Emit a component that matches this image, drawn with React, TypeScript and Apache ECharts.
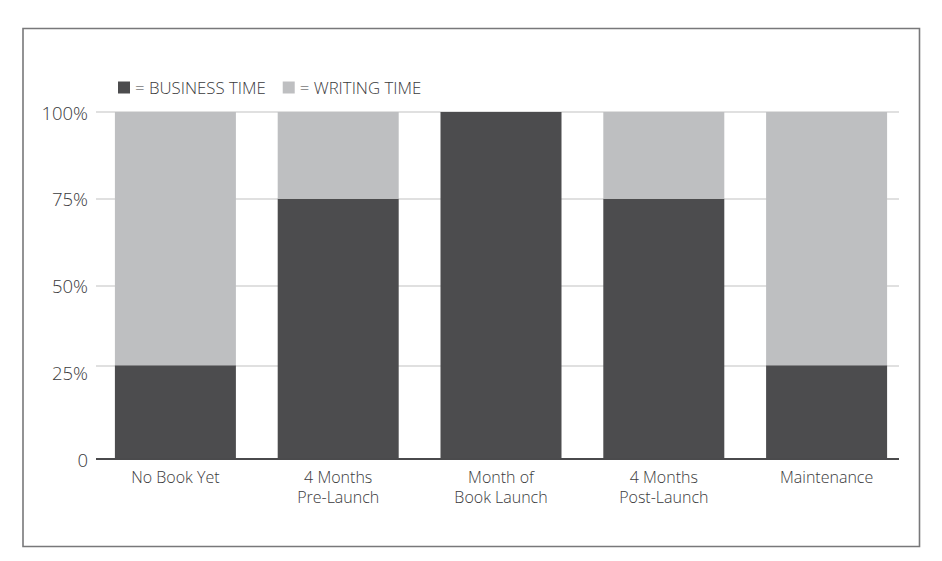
import React, { useEffect, useRef } from "react";
import * as echarts from "echarts";

const categories = [
  "No Book Yet",
  "4 Months\nPre-Launch",
  "Month of\nBook Launch",
  "4 Months\nPost-Launch",
  "Maintenance",
];
const businessTime = [27, 75, 100, 75, 27];
const writingTime = [73, 25, 0, 25, 73];
const yTicks = [0, 25, 50, 75, 100];
const gridLineValues = [27, 50, 75, 100];

const FONT = "Open Sans";
const TEXT = "#3a3a3c";
const DARK = "#4c4c4e";
const LIGHT = "#bebfc1";

export default function App() {
  const ref = useRef<HTMLDivElement>(null);
  useEffect(() => {
    if (!ref.current) return;
    const chart = echarts.init(ref.current, null, { renderer: "svg" });
    chart.setOption({
      animation: false,
      backgroundColor: "#ffffff",
      textStyle: { fontFamily: FONT, color: TEXT, fontWeight: 300 },
      legend: {
        left: 113,
        top: 74,
        itemWidth: 12,
        itemHeight: 12,
        itemGap: 17,
        icon: "rect",
        textStyle: { fontFamily: FONT, fontSize: 16.8, fontWeight: 300, color: TEXT },
        data: ["= BUSINESS TIME", "= WRITING TIME"],
      },
      grid: [
        { left: 94, right: 34, top: 112, bottom: 102, containLabel: false },
        { left: 96, right: 43, top: 112, bottom: 102, containLabel: false },
      ],
      xAxis: [
        {
          type: "category",
          gridIndex: 0,
          data: categories,
          axisLine: { show: false },
          axisTick: { show: false },
          axisLabel: {
            fontFamily: FONT,
            fontSize: 16,
            fontWeight: 300,
            lineHeight: 20,
            color: TEXT,
            margin: 8,
            interval: 0,
          },
        },
        {
          type: "value",
          gridIndex: 1,
          min: 0,
          max: 1,
          axisLine: { show: false },
          axisTick: { show: false },
          axisLabel: { show: false },
          splitLine: { show: false },
        },
      ],
      yAxis: [
        {
          type: "value",
          gridIndex: 0,
          min: 0,
          max: 100,
          interval: 25,
          axisLine: { show: false },
          axisTick: { show: false },
          splitLine: { show: false },
          axisLabel: {
            fontFamily: FONT,
            fontSize: 18.5,
            fontWeight: 300,
            color: TEXT,
            margin: 6,
            padding: [7, 0, 0, 0],
            formatter: (v: number) => (yTicks.includes(v) ? (v === 0 ? "0" : v + "%") : ""),
          },
        },
        {
          type: "value",
          gridIndex: 1,
          min: 0,
          max: 100,
          axisLine: { show: false },
          axisTick: { show: false },
          axisLabel: { show: false },
          splitLine: { show: false },
        },
      ],
      series: [
        {
          type: "line",
          xAxisIndex: 1,
          yAxisIndex: 1,
          data: [],
          z: 0,
          silent: true,
          markLine: {
            z: 0,
            symbol: "none",
            silent: true,
            label: { show: false },
            lineStyle: { color: "#e0e0e0", width: 2, type: "solid" },
            data: gridLineValues.map((v) => ({ yAxis: v })),
          },
        },
        {
          type: "line",
          xAxisIndex: 1,
          yAxisIndex: 1,
          data: [],
          z: 10,
          silent: true,
          markLine: {
            z: 10,
            symbol: "none",
            silent: true,
            label: { show: false },
            lineStyle: { color: "#4a4a4c", width: 2, type: "solid" },
            data: [{ yAxis: 0 }],
          },
        },
        {
          name: "= BUSINESS TIME",
          type: "bar",
          stack: "total",
          xAxisIndex: 0,
          yAxisIndex: 0,
          barWidth: 121,
          itemStyle: { color: DARK },
          z: 3,
          data: businessTime,
        },
        {
          name: "= WRITING TIME",
          type: "bar",
          stack: "total",
          xAxisIndex: 0,
          yAxisIndex: 0,
          barWidth: 121,
          itemStyle: { color: LIGHT },
          z: 3,
          data: writingTime,
        },
      ],
      graphic: [
        {
          type: "rect",
          shape: { x: 23, y: 28.5, width: 896.5, height: 518 },
          style: { fill: "none", stroke: "#78787a", lineWidth: 1.6 },
          silent: true,
          z: 100,
        },
      ],
    });
    return () => chart.dispose();
  }, []);
  return (
    <div
      ref={ref}
      style={{ position: "fixed", left: 0, top: 0, width: 942, height: 561 }}
    />
  );
}
